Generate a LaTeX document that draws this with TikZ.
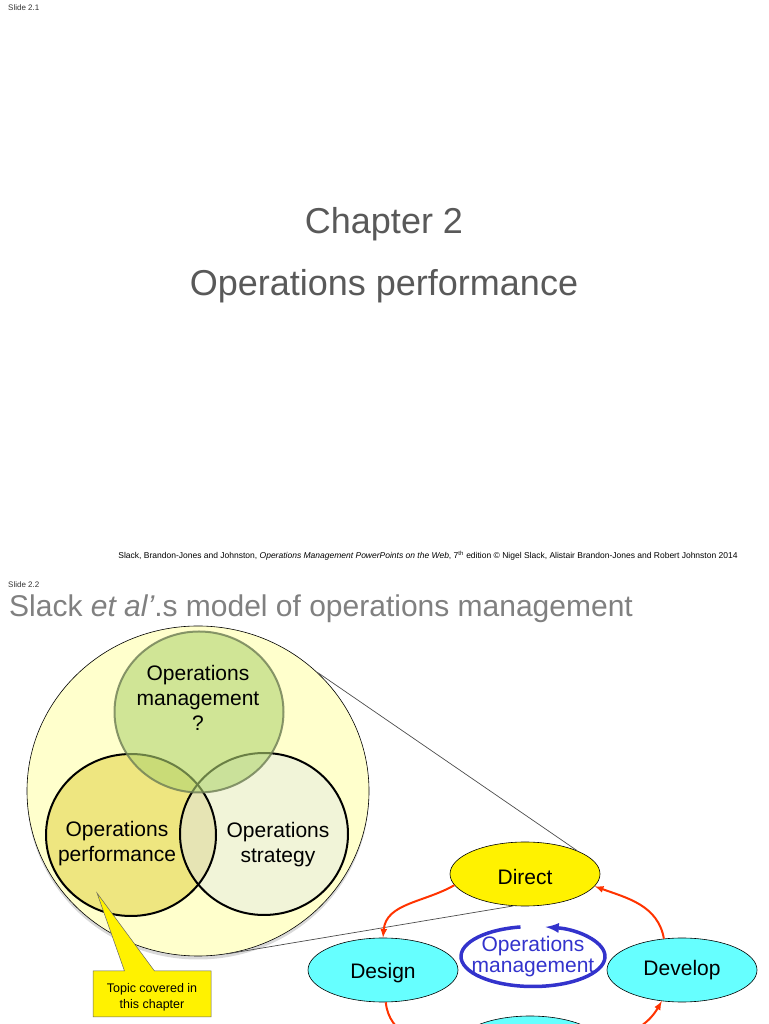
\documentclass[tikz,border=0pt]{standalone}
\usepackage{fontspec}
\setmainfont{Liberation Sans}
\usepackage{xcolor}
\usepackage{tikz}
\usetikzlibrary{shapes.geometric,shapes.callouts,shadows}
\definecolor{slidegray}{RGB}{89,89,89}
\definecolor{titlegray}{RGB}{128,128,128}
\definecolor{paleyellow}{RGB}{255,255,204}
\definecolor{perfyellow}{RGB}{238,230,128}
\definecolor{stratpale}{RGB}{241,244,216}
\definecolor{lensfill}{RGB}{230,228,180}
\definecolor{omgreen}{RGB}{177,213,114}
\definecolor{omedge}{RGB}{110,125,85}
\definecolor{cyanfill}{RGB}{102,255,255}
\definecolor{cyclered}{RGB}{255,51,0}
\definecolor{omblue}{RGB}{51,51,204}
\newcommand{\fsz}[2]{\fontsize{#1}{#2}\selectfont}
\newcommand{\dn}[1]{\raisebox{-3pt}[\height][\depth]{#1}}

\begin{document}
\begin{tikzpicture}[x=1pt,y=1pt,>=latex,
 ring/.style={ellipse,line width=2pt,inner sep=0pt,minimum width=170pt,minimum height=162pt},
 ov/.style={ellipse,draw=black,line width=0.6pt,minimum width=150pt,minimum height=64pt,font=\fsz{21}{25}},
 txt/.style={align=center,font=\fsz{21}{25}},
 cyc/.style={->,cyclered,line width=2pt},
 zoomline/.style={draw=black!70,line width=0.7pt}]
 \clip (0,0) rectangle (768,1024);
 % slide 2.1
 \node[anchor=west,inner sep=0pt,font=\fsz{8}{9},text=black!80](s1) at (8,1016){Slide 2.1};
 \node[anchor=base,font=\fsz{36}{40},text=slidegray](chap) at (384,790){Chapter 2};
 \node[anchor=base,font=\fsz{36}{40},text=slidegray](chapname) at (384,728){Operations performance};
 \node[font=\fsz{8.5}{10}](foot) at (428,468){Slack, Brandon-Jones and Johnston, \textit{Operations Management PowerPoints on the Web}, 7\textsuperscript{th} edition © Nigel Slack, Alistair Brandon-Jones and Robert Johnston 2014};
 % slide 2.2
 \node[anchor=west,inner sep=0pt,font=\fsz{8}{9},text=black!80](s2) at (8,439){Slide 2.2};
 \node[anchor=base west,inner sep=0pt,font=\fsz{30}{34},text=titlegray](title) at (9,407){Slack \textit{et al'}.s model of operations management};
 % venn
 \node[ellipse,draw=black,line width=0.6pt,fill=paleyellow,minimum width=342pt,minimum height=330pt,
   drop shadow={shadow xshift=0pt,shadow yshift=-3.5pt,opacity=0.3}](big) at (198,233){};
 \node[ring,fill=perfyellow](perf) at (131,189){};
 \node[ring,draw=black,fill=stratpale,minimum width=168pt,
   path picture={\fill[lensfill] (perf.center) ellipse[x radius=85,y radius=81];}](strat) at (264,190){};
 \draw[line width=2pt] (perf.center) ellipse[x radius=85,y radius=81];
 \node[ring,fill=omgreen,fill opacity=0.6,draw=omedge,draw opacity=0.8,minimum width=169pt,minimum height=161pt](om) at (199,312){};
 \node[txt](omtxt) at (198,326){Operations\\management\\?};
 \node[txt](perftxt) at (117,180){Operations\\performance};
 \node[txt](strattxt) at (278,179){Operations\\strategy};
 \node[rectangle callout,fill=yellow,draw=black!60,line width=0.5pt,callout absolute pointer={(97,131)},
   callout pointer width=30pt,minimum width=118pt,minimum height=46pt,align=center,font=\fsz{12.5}{16}](topic) at (152,30){\dn{\parbox{110pt}{\centering Topic covered in\\this chapter}}};
 % cycle
 \node[ov,fill=yellow](direct) at (525,150){\dn{Direct}};
 \node[ov,fill=cyanfill](design) at (383,54){\dn{Design}};
 \node[ov,fill=cyanfill](develop) at (682,54){Develop};
 \node[ov,fill=cyanfill](bottomov) at (530,-24){};
 \draw[zoomline] (big.45.6) -- (direct.24);
 \draw[zoomline] (big.-80) -- (direct.250);
 \draw[cyc] (direct.189) to[out=210,in=85] (design.north);
 \draw[cyc] (develop.120) to[out=100,in=-20] (direct.-10);
 \draw[cyc] (design.-85) to[out=-85,in=175] (bottomov.west);
 \draw[cyc] (bottomov.5) to[out=15,in=240] (develop.237);
 \node[txt,font=\fsz{21}{21},text=omblue](cyctxt) at (533,67.5){Operations\\management};
 \draw[->,omblue,line width=3.5pt] (cyctxt.center) ++(100:72 and 30) arc[start angle=100,end angle=440,x radius=72,y radius=30];
\end{tikzpicture}
\end{document}
